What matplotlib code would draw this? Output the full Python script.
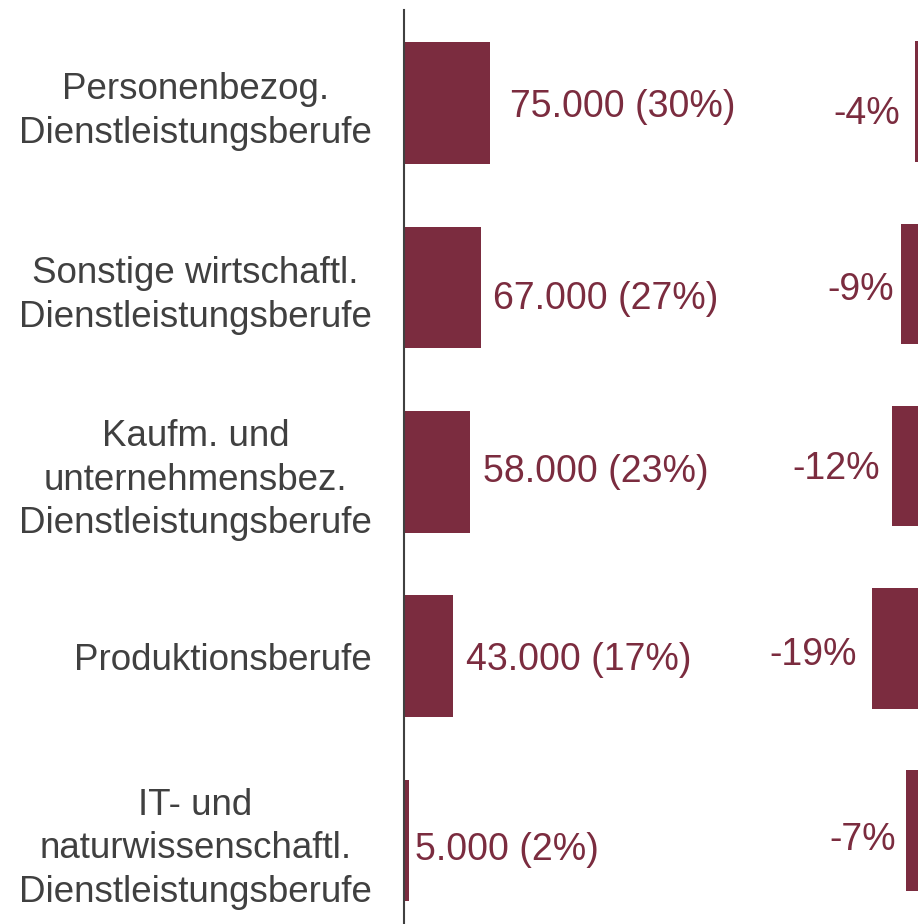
import numpy as np
import matplotlib
matplotlib.use("Agg")
from matplotlib import pyplot as plt

# data
categories = [
    "Personenbezog.\nDienstleistungsberufe",
    "Sonstige wirtschaftl.\nDienstleistungsberufe",
    "Kaufm. und\nunternehmensbez.\nDienstleistungsberufe",
    "Produktionsberufe",
    "IT- und\nnaturwissenschaftl.\nDienstleistungsberufe",
]
jobs = [75000, 67000, 58000, 43000, 5000]
shares = [30, 27, 23, 17, 2]
change_pct = [-4, -9, -12, -19, -7]

BAR = "#7B2C3F"
GREY = "#404040"
W, H = 918, 924
PT = 0.72  # points per pixel at dpi 100
plt.rcParams["font.family"] = ["Liberation Sans", "DejaVu Sans"]

fig = plt.figure(figsize=(W / 100, H / 100), dpi=100)
y = np.arange(len(categories))
top_px, bot_px = 10, 924


def ylim_for(first_c, step):
    return ((bot_px - first_c) / step, -(first_c - top_px) / step)


# left panel: absolute numbers
x_zero_l = 403.5
px_per_1000 = 1.153
axl = fig.add_axes([x_zero_l / W, 1 - bot_px / H, (760 - x_zero_l) / W, (bot_px - top_px) / H])
axl.barh(y, jobs, height=0.66, color=BAR)
axl.set_xlim(0, (760 - x_zero_l) / px_per_1000 * 1000)
axl.set_ylim(*ylim_for(103, 184.4))
axl.set_facecolor("none")
for s in ["top", "right", "bottom"]:
    axl.spines[s].set_visible(False)
axl.spines["left"].set_color(GREY)
axl.spines["left"].set_linewidth(1.5)
axl.set_xticks([])
axl.set_yticks(y)
axl.set_yticklabels(categories, fontsize=26.5, color=GREY, linespacing=1.32)
axl.tick_params(axis="y", length=0, pad=(x_zero_l - 372) * PT)
for lab in axl.get_yticklabels():
    lab.set_multialignment("center")
    lab.set_y(lab.get_position()[1])

# label offsets in px: gap from bar end, baseline below bar centre
pad_l = [20, 12.5, 13, 12.7, 5.5]
dy_l = [14, 22, 10, 14, 19]
for i, (v, s) in enumerate(zip(jobs, shares)):
    txt = f"{v:,}".replace(",", ".") + f" ({s}%)"
    axl.annotate(txt, (v, i), xytext=(pad_l[i] * PT, -dy_l[i] * PT), textcoords="offset points",
                 ha="left", va="baseline", fontsize=27, color=BAR)

# right panel: change in percent (zero line sits just outside the picture)
x_zero_r = 926.5
px_per_pct = 2.887
axr = fig.add_axes([760 / W, 1 - bot_px / H, (x_zero_r - 760) / W, (bot_px - top_px) / H])
axr.barh(y, change_pct, height=0.661, color=BAR)
axr.set_xlim(-(x_zero_r - 760) / px_per_pct, 0)
axr.set_ylim(*ylim_for(101.7, 182.2))
axr.set_facecolor("none")
axr.axis("off")

pad_r = [15, 6.7, 12.3, 14.3, 10.7]
dy_r = [22, 16, 13, 17, 19]
for i, c in enumerate(change_pct):
    axr.annotate(f"{c}%", (c, i), xytext=(-pad_r[i] * PT, -dy_r[i] * PT), textcoords="offset points",
                 ha="right", va="baseline", fontsize=27, color=BAR)

fig.savefig("out.png", dpi=100)
